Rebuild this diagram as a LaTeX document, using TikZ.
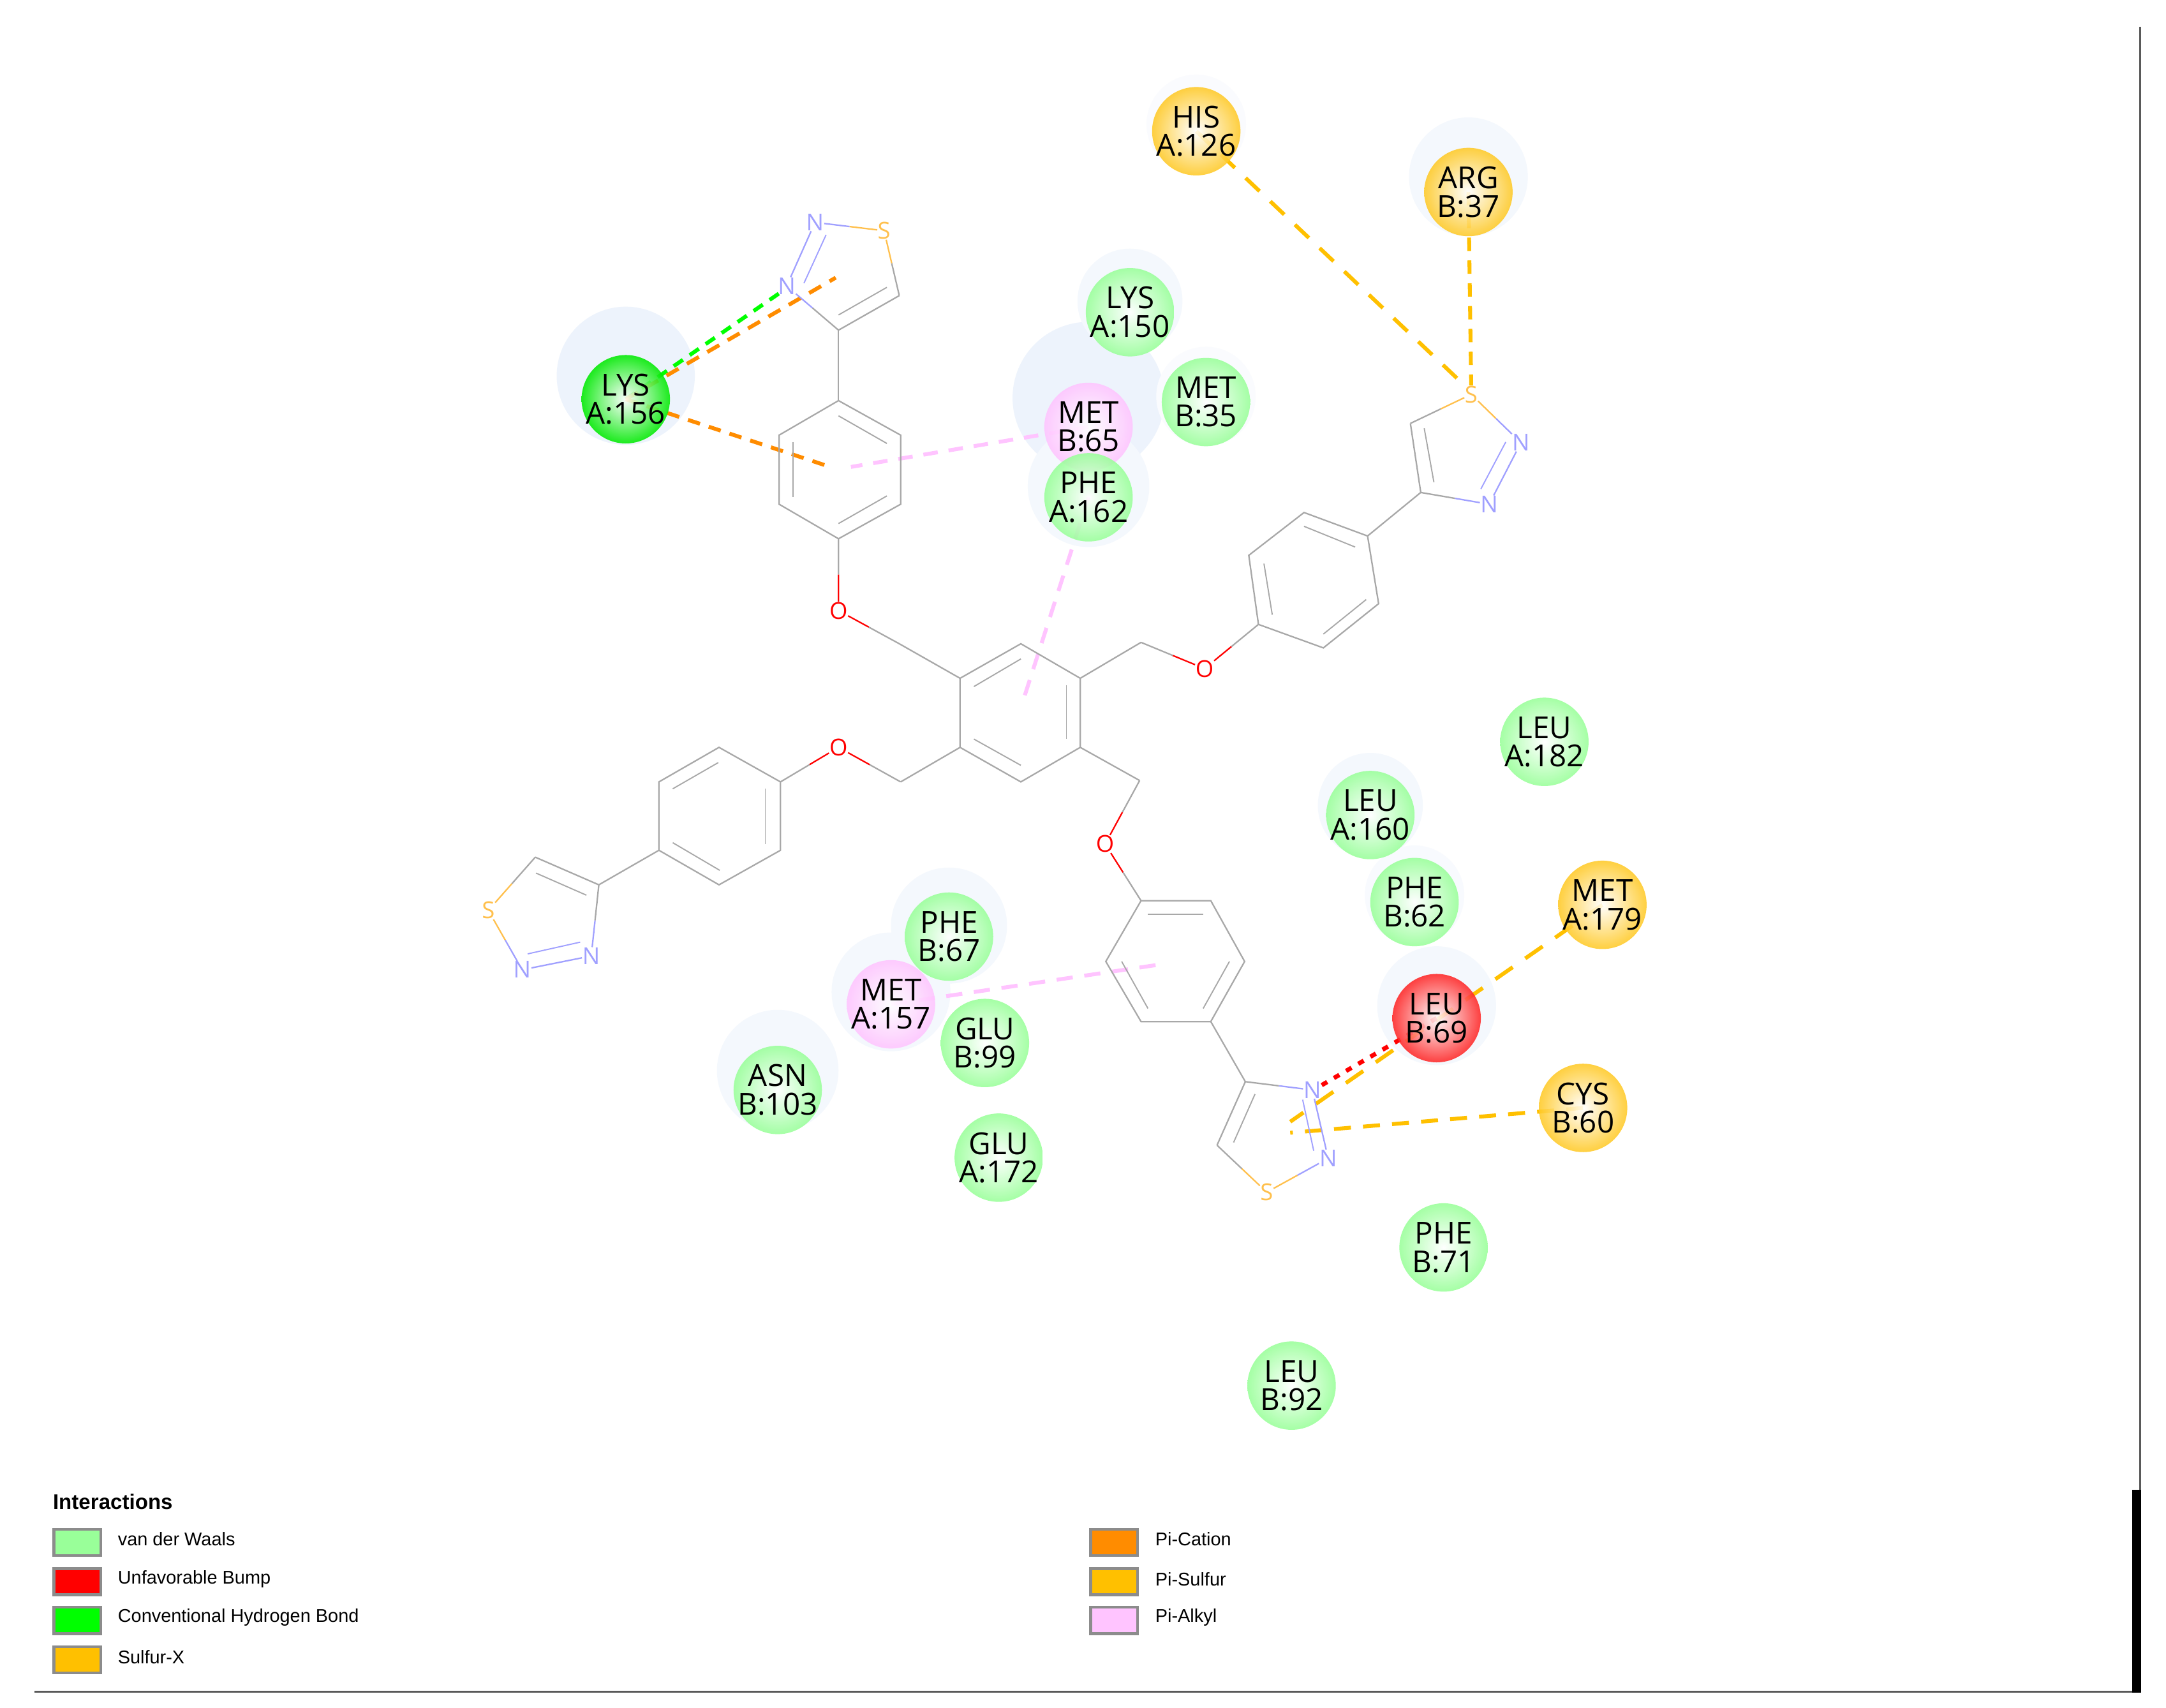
\documentclass[tikz,border=0pt]{standalone}
\usepackage{fontspec}
\setmainfont{Open Sans}
\newfontfamily\legendfont{Liberation Sans}
\usetikzlibrary{calc}
\definecolor{vdwgreen}{HTML}{99FF99}
\definecolor{bumpred}{HTML}{FF0000}
\definecolor{hbondgreen}{HTML}{00FF00}
\definecolor{sulfuryellow}{HTML}{FFC000}
\definecolor{cationorange}{HTML}{FF8C00}
\definecolor{alkylpink}{HTML}{FFC4FF}
\definecolor{halocol}{HTML}{EDF3FC}
\definecolor{bondgray}{HTML}{A8A8A8}
\definecolor{framegray}{HTML}{595959}
\definecolor{ncol}{HTML}{A0A0FF}
\definecolor{scol}{HTML}{FFC04D}
\pgfdeclarelayer{under}
\pgfsetlayers{under,main}
\tikzset{
  residue/.style={circle,minimum size=1.28cm,inner sep=-4pt,align=center,font=\fontsize{12.5}{11.7}\selectfont,
    inner color=white,outer color=#1,fill opacity=0.88,text opacity=1},
  halo/.style={fill=halocol,draw=none},
  atom/.style={inner sep=0pt,font=\fontsize{9.6}{10}\selectfont},
  bond/.style={draw=bondgray,line width=0.6pt},
  inner bond/.style={draw=bondgray,line width=0.5pt},
  contact/.style 2 args={line width=1.6pt,dash pattern=on #1pt off #2pt},
  swatch/.style={draw=black!45,line width=1.2pt,minimum width=0.68cm,minimum height=0.38cm,inner sep=0pt},
  legendlabel/.style={anchor=west,inner sep=0pt,font=\legendfont\fontsize{7.6}{9}\selectfont}
}
% half and half bond between two atoms
\newcommand{\halfbond}[4]{%
  \draw[bond,draw=#3] (#1) -- ($(#1)!0.5!(#2)$);
  \draw[bond,draw=#4] ($(#1)!0.5!(#2)$) -- (#2);
}
\begin{document}
\begin{tikzpicture}[x=0.02cm,y=-0.02cm]
\useasboundingbox (0,0) rectangle (1568,1236);
% frame
\coordinate (fbl) at (25,1224.7);
\coordinate (fbr) at (1544,1224.7);
\coordinate (ftr) at (1549.4,19.4);
\coordinate (fmr) at (1549.4,1078.6);
\draw[framegray,line width=0.8pt] (fbl) -- (fbr);
\draw[framegray,line width=0.8pt] (ftr) -- (fmr);
\fill[black] (1543.5,1078.6) rectangle (1550,1225.4);
% halos
\begin{pgfonlayer}{under}
\fill[white] (0,0) rectangle (1568,1236);
\fill[halo] (453,272) circle (50);
\fill[halo] (788,288) circle (55);
\fill[halocol!60!white] (818,218) circle (38);
\fill[halocol!60!white] (1063,128) circle (43);
\fill[halocol!60!white] (788,352) circle (44);
\fill[halocol!60!white] (992,583) circle (38);
\fill[halocol!40!white] (1024,648) circle (36);
\fill[halocol!60!white] (1040,728) circle (43);
\fill[halocol!60!white] (687,670) circle (42);
\fill[halocol!60!white] (645,718) circle (43);
\fill[halocol!60!white] (563,775) circle (44);
\fill[halocol!30!white] (866,90) circle (36);
\fill[halocol!30!white] (873,287) circle (36);
\end{pgfonlayer}
% free ends of the contacts
\coordinate (cb1) at (601,338);
\coordinate (cb2) at (616,338);
\coordinate (cc) at (741,506);
\coordinate (ce) at (841,698);
\coordinate (ct) at (605,201);
\coordinate (cs1) at (934,812);
\coordinate (cs2) at (934,820);
\coordinate (sh) at (1056,275);
\coordinate (sa) at (1065,279);
\coordinate (nh) at (566,211);
\coordinate (nl) at (956,786);
% central ring
\coordinate (a1) at (739,466);
\coordinate (a2) at (782,491);
\coordinate (a3) at (782,541);
\coordinate (a4) at (739,566);
\coordinate (a5) at (695,541);
\coordinate (a6) at (695,491);
\draw[bond] (a1) -- (a2) -- (a3) -- (a4) -- (a5) -- (a6) -- cycle;
\draw[inner bond] (705,497) -- (739,477);
\draw[inner bond] (772,496) -- (772,535);
\draw[inner bond] (705,535) -- (739,554);
% ring up left
\coordinate (b1) at (607,290);
\coordinate (b2) at (652,315);
\coordinate (b3) at (652,365);
\coordinate (b4) at (607,390);
\coordinate (b5) at (564,365);
\coordinate (b6) at (564,315);
\draw[bond] (b1) -- (b2) -- (b3) -- (b4) -- (b5) -- (b6) -- cycle;
\draw[inner bond] (607,301) -- (642,321);
\draw[inner bond] (574,320) -- (574,360);
\draw[inner bond] (607,379) -- (642,359);
\node[atom,text=red] (o1) at (607,442) {O};
\coordinate (m4) at (651,466);
\halfbond{b4}{o1}{bondgray}{red}
\halfbond{o1}{m4}{red}{bondgray}
\draw[bond] (m4) -- (a6);
\coordinate (t1) at (607,239);
\coordinate (t2) at (651,214);
\node[atom,text=scol] (s1) at (640,167) {S};
\node[atom,text=ncol] (n1) at (590,161) {N};
\node[atom,text=ncol] (n2) at (569.5,207) {N};
\draw[bond] (b1) -- (t1);
\draw[bond] (t1) -- (t2);
\halfbond{t2}{s1}{bondgray}{scol}
\halfbond{s1}{n1}{scol}{ncol}
\draw[bond,draw=ncol] (n1) -- (n2);
\halfbond{n2}{t1}{ncol}{bondgray}
\draw[inner bond] (607,228) -- (642,208);
\draw[inner bond,draw=ncol] (582,205) -- (598,170);
% ring up right
\coordinate (m1) at (826,465);
\node[atom,text=red] (o2) at (872,484) {O};
\coordinate (c1) at (911,452);
\coordinate (c2) at (904,402);
\coordinate (c3) at (944,371);
\coordinate (c4) at (990,388);
\coordinate (c5) at (998,437);
\coordinate (c6) at (958,469);
\draw[bond] (c1) -- (c2) -- (c3) -- (c4) -- (c5) -- (c6) -- cycle;
\draw[inner bond] (915,408) -- (921,445);
\draw[inner bond] (944,381) -- (981,396);
\draw[inner bond] (958,459) -- (989,434);
\draw[bond] (a2) -- (m1);
\halfbond{m1}{o2}{bondgray}{red}
\halfbond{o2}{c1}{red}{bondgray}
\coordinate (u1) at (1028.5,356.5);
\coordinate (u2) at (1021,306.5);
\node[atom,text=scol] (s2) at (1065,285.5) {S};
\node[atom,text=ncol] (n3) at (1101,320.5) {N};
\node[atom,text=ncol] (n4) at (1078,365) {N};
\draw[bond] (c4) -- (u1);
\draw[bond] (u1) -- (u2);
\halfbond{u2}{s2}{bondgray}{scol}
\halfbond{s2}{n3}{scol}{ncol}
\draw[bond,draw=ncol] (n3) -- (n4);
\halfbond{n4}{u1}{ncol}{bondgray}
\draw[inner bond] (1031,310) -- (1038,349);
\draw[inner bond,draw=ncol] (1090,320) -- (1072,354);
% ring low left
\coordinate (m2) at (652,566);
\node[atom,text=red] (o3) at (607,541) {O};
\coordinate (d1) at (565,566);
\coordinate (d2) at (520.5,541);
\coordinate (d3) at (477,566);
\coordinate (d4) at (477,615.5);
\coordinate (d5) at (520.5,640.5);
\coordinate (d6) at (565,615.5);
\draw[bond] (d1) -- (d2) -- (d3) -- (d4) -- (d5) -- (d6) -- cycle;
\draw[inner bond] (487,571) -- (520,552);
\draw[inner bond] (554,571) -- (554,611);
\draw[inner bond] (487,610) -- (521,630);
\draw[bond] (a5) -- (m2);
\halfbond{m2}{o3}{bondgray}{red}
\halfbond{o3}{d1}{red}{bondgray}
\coordinate (v1) at (433.5,640.5);
\coordinate (v2) at (387.5,620.5);
\node[atom,text=scol] (s3) at (353.5,659) {S};
\node[atom,text=ncol] (n5) at (378,702) {N};
\node[atom,text=ncol] (n6) at (428,692) {N};
\draw[bond] (d4) -- (v1);
\draw[bond] (v1) -- (v2);
\halfbond{v2}{s3}{bondgray}{scol}
\halfbond{s3}{n5}{scol}{ncol}
\draw[bond,draw=ncol] (n5) -- (n6);
\halfbond{n6}{v1}{ncol}{bondgray}
\draw[inner bond] (388,632) -- (424.5,648);
\draw[inner bond,draw=ncol] (382,690.5) -- (420,682);
% ring low right
\coordinate (m3) at (825,565);
\node[atom,text=red] (o4) at (800,611) {O};
\coordinate (e1) at (826,652);
\coordinate (e2) at (876.5,652);
\coordinate (e3) at (901,696);
\coordinate (e4) at (876.5,739.5);
\coordinate (e5) at (826,739.5);
\coordinate (e6) at (800.5,696);
\draw[bond] (e1) -- (e2) -- (e3) -- (e4) -- (e5) -- (e6) -- cycle;
\draw[inner bond] (831,662) -- (871,662);
\draw[inner bond] (890,696) -- (871,730);
\draw[inner bond] (812,696) -- (831,730);
\draw[bond] (a3) -- (m3);
\halfbond{m3}{o4}{bondgray}{red}
\halfbond{o4}{e1}{red}{bondgray}
\coordinate (w1) at (901.5,783);
\coordinate (w2) at (881,829);
\node[atom,text=scol] (s4) at (917,863) {S};
\node[atom,text=ncol] (n7) at (950,789) {N};
\node[atom,text=ncol] (n8) at (961.5,838.5) {N};
\draw[bond] (e4) -- (w1);
\draw[bond] (w1) -- (w2);
\halfbond{w2}{s4}{bondgray}{scol}
\halfbond{s4}{n8}{scol}{ncol}
\draw[bond,draw=ncol] (n8) -- (n7);
\halfbond{n7}{w1}{ncol}{bondgray}
\draw[inner bond] (908.5,792) -- (893,827);
\draw[inner bond,draw=ncol] (943,796) -- (951,833);
% residues
\node[residue=vdwgreen] (lys150) at (818,226) {LYS\\A:150};
\node[residue=vdwgreen] (met35) at (873,291) {MET\\B:35};
\node[residue=vdwgreen] (leu182) at (1118,537) {LEU\\A:182};
\node[residue=vdwgreen] (leu160) at (992,590) {LEU\\A:160};
\node[residue=vdwgreen] (phe62) at (1024,653) {PHE\\B:62};
\node[residue=vdwgreen] (phe71) at (1045,903) {PHE\\B:71};
\node[residue=vdwgreen] (leu92) at (935,1003) {LEU\\B:92};
\node[residue=vdwgreen] (phe67) at (687,678) {PHE\\B:67};
\node[residue=vdwgreen] (glu99) at (713,755) {GLU\\B:99};
\node[residue=vdwgreen] (asn103) at (563,789) {ASN\\B:103};
\node[residue=vdwgreen] (glu172) at (723,838) {GLU\\A:172};
\node[residue=alkylpink] (met65) at (788,309) {MET\\B:65};
\node[residue=vdwgreen] (phe162) at (788,360) {PHE\\A:162};
\node[residue=alkylpink] (met157) at (645,727) {MET\\A:157};
\node[residue=sulfuryellow!85!white] (his126) at (866,95) {HIS\\A:126};
\node[residue=sulfuryellow!85!white] (arg37) at (1063,139) {ARG\\B:37};
\node[residue=sulfuryellow!85!white] (met179) at (1160,655) {MET\\A:179};
\node[residue=sulfuryellow!85!white] (cys60) at (1146,802) {CYS\\B:60};
\node[residue=hbondgreen!92!black] (lys156) at (453,289) {LYS\\A:156};
\node[residue=bumpred!85!white] (leu69) at (1040,737) {LEU\\B:69};
% contacts
\begin{pgfonlayer}{under}
\draw[contact={4.6}{3.4},hbondgreen] (lys156.center) -- (nh);
\draw[contact={5.7}{4},cationorange] (lys156.center) -- (ct);
\draw[contact={5.2}{3.8},cationorange] (lys156.center) -- (cb1);
\draw[contact={6}{4.5},alkylpink] (met65.center) -- (cb2);
\draw[contact={6.6}{4.7},alkylpink] (phe162.center) -- (cc);
\draw[contact={6.7}{4.8},alkylpink] (met157.center) -- (ce);
\draw[contact={7.9}{6.1},sulfuryellow] (his126.center) -- (sh);
\draw[contact={5.5}{3.9},sulfuryellow] (arg37.center) -- (sa);
\draw[contact={8.7}{6.3},sulfuryellow] (met179.center) -- (cs1);
\draw[contact={7}{5},sulfuryellow] (cys60.center) -- (cs2);
\draw[line width=1.8pt,bumpred,dash pattern=on 2.6pt off 3.2pt] (leu69.center) -- (nl);
\end{pgfonlayer}
% legend
\node[anchor=west,inner sep=0pt,font=\legendfont\bfseries\fontsize{8.7}{9}\selectfont] (title) at (38,1087) {Interactions};
\node[swatch,fill=vdwgreen,anchor=west] (k1) at (38,1116.5) {};
\node[legendlabel] (l1) at (85,1114) {van der Waals};
\node[swatch,fill=bumpred,anchor=west] (k2) at (38,1145) {};
\node[legendlabel] (l2) at (85,1143) {Unfavorable Bump};
\node[swatch,fill=hbondgreen,anchor=west] (k3) at (38,1173) {};
\node[legendlabel] (l3) at (85,1171) {Conventional Hydrogen Bond};
\node[swatch,fill=sulfuryellow,anchor=west] (k4) at (38,1201.5) {};
\node[legendlabel] (l4) at (85,1199.5) {Sulfur-X};
\node[swatch,fill=cationorange,anchor=west] (k5) at (788.5,1116.5) {};
\node[legendlabel] (l5) at (836,1114) {Pi-Cation};
\node[swatch,fill=sulfuryellow,anchor=west] (k6) at (788.5,1145) {};
\node[legendlabel] (l6) at (836,1143) {Pi-Sulfur};
\node[swatch,fill=alkylpink,anchor=west] (k7) at (788.5,1173) {};
\node[legendlabel] (l7) at (836,1171) {Pi-Alkyl};
\end{tikzpicture}
\end{document}
